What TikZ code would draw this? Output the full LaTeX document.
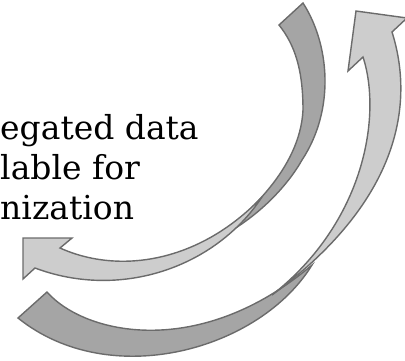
\documentclass[tikz,border=0pt]{standalone}
\usepackage{fontspec}
\setmainfont{DejaVu Serif}
\usepackage{xcolor}
\usepackage{tikz}
\definecolor{darkband}{HTML}{A5A5A5}
\definecolor{lightband}{HTML}{CDCDCD}
\definecolor{bandline}{HTML}{6B6B6B}

\begin{document}
\begin{tikzpicture}[x=1pt,y=-1pt,
  darkarrow/.style={fill=darkband,draw=bandline,line width=1.4pt},
  lightarrow/.style={fill=lightband,draw=bandline,line width=1.4pt},
  caption/.style={anchor=base west,inner sep=0pt,font=\fontsize{33}{40}\selectfont}]
\useasboundingbox (0,0) rectangle (405,360);
% inner loop
\draw[darkarrow] (279,25) -- (303,3)
  .. controls (330,45) and (335,110) .. (302,160)
  .. controls (288,185) and (258,218) .. (218,238)
  .. controls (245,215) and (300,170) .. (303,110)
  .. controls (303,70) and (295,45) .. cycle;
\draw[lightarrow] (23,238) -- (72,238) -- (60,248)
  .. controls (120,275) and (200,262) .. (262,197)
  .. controls (215,268) and (120,300) .. (35,268)
  -- (23,279) -- cycle;
% outer loop
\draw[darkarrow] (18,318) -- (47,292)
  .. controls (85,335) and (200,360) .. (312,265)
  .. controls (260,350) and (110,392) .. cycle;
\draw[lightarrow] (356,11) -- (407,18) -- (392,32)
  .. controls (412,95) and (408,195) .. (272,295)
  .. controls (365,222) and (382,115) .. (363,57)
  -- (348,71) -- cycle;
\node[caption] (line1) at (0,139.5) {egated data};
\node[caption] (line2) at (0,179) {lable for};
\node[caption] (line3) at (0,219) {nization};
\end{tikzpicture}
\end{document}
